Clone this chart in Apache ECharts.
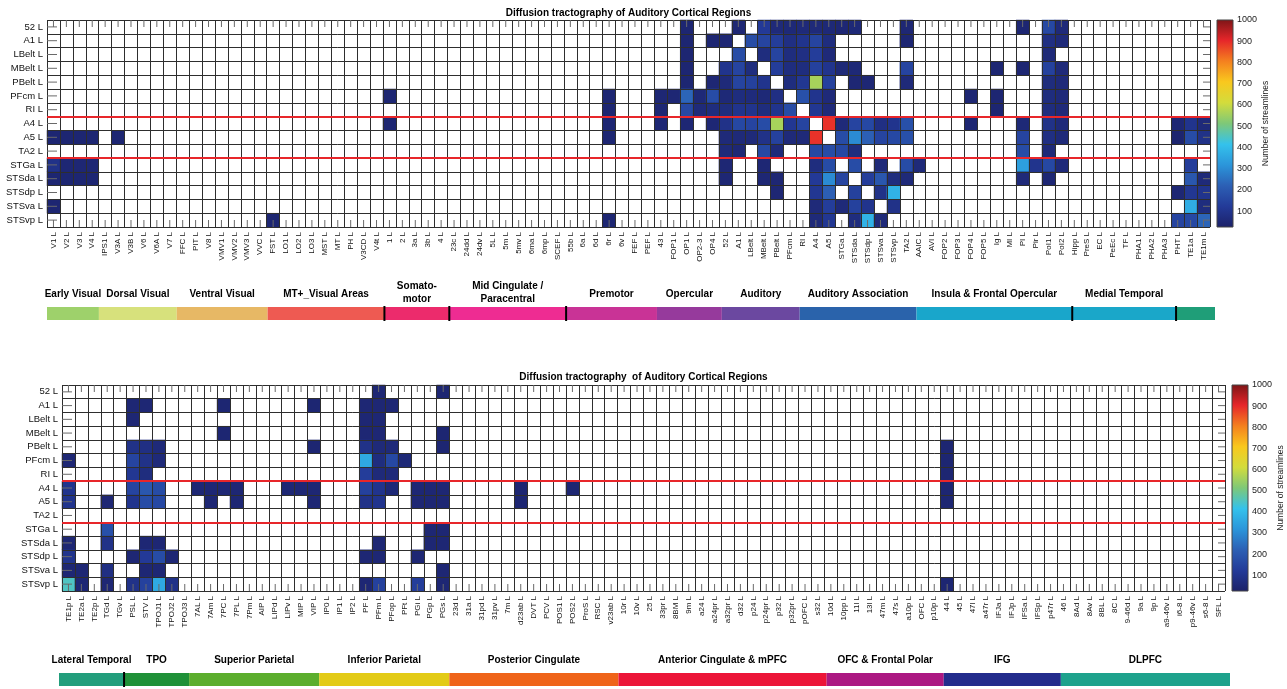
<!DOCTYPE html>
<html>
<head>
<meta charset="utf-8">
<script src="https://cdn.jsdelivr.net/npm/echarts@6/dist/echarts.min.js"></script>
<style>
  html, body { margin: 0; padding: 0; background: #fff; }
  #chart { width: 1287px; height: 689px; }
</style>
</head>
<body>
<div id="chart"></div>
<script>
// Seed regions (rows) shared by both panels
const rows = ['52', 'A1', 'LBelt', 'MBelt', 'PBelt', 'PFcm', 'RI', 'A4', 'A5', 'TA2',
  'STGa', 'STSda', 'STSdp', 'STSva', 'STSvp'];

// Rows that start a new block (red separators)
const dividerRows = ['A4', 'STGa'];

// Target regions of the upper panel
const topCols = ['V1', 'V2', 'V3', 'V4', 'IPS1', 'V3A', 'V3B', 'V6', 'V6A', 'V7', 'FFC', 'PIT', 'V8',
  'VMV1', 'VMV2', 'VMV3', 'VVC', 'FST', 'LO1', 'LO2', 'LO3', 'MST', 'MT', 'PH', 'V3CD', 'V4t',
  '1', '2', '3a', '3b', '4', '23c', '24dd', '24dv', '5L', '5m', '5mv', '6ma', '6mp', 'SCEF',
  '55b', '6a', '6d', '6r', '6v', 'FEF', 'PEF', '43', 'FOP1', 'OP1', 'OP2-3', 'OP4',
  '52', 'A1', 'LBelt', 'MBelt', 'PBelt', 'PFcm', 'RI', 'A4', 'A5', 'STGa', 'STSda', 'STSdp',
  'STSva', 'STSvp', 'TA2', 'AAIC', 'AVI', 'FOP2', 'FOP3', 'FOP4', 'FOP5', 'Ig', 'MI', 'PI',
  'Pir', 'PoI1', 'PoI2', 'Hipp', 'PreS', 'EC', 'PeEc', 'TF', 'PHA1', 'PHA2', 'PHA3',
  'PHT', 'TE1a', 'TE1m'];

// Target regions of the lower panel
const bottomCols = ['TE1p', 'TE2a', 'TE2p', 'TGd', 'TGv', 'PSL', 'STV', 'TPOJ1', 'TPOJ2', 'TPOJ3',
  '7AL', '7Am', '7PC', '7PL', '7Pm', 'AIP', 'LIPd', 'LIPv', 'MIP', 'VIP', 'IP0', 'IP1', 'IP2',
  'PF', 'PFm', 'PFop', 'PFt', 'PGi', 'PGp', 'PGs', '23d', '31a', '31pd', '31pv', '7m', 'd23ab',
  'DVT', 'PCV', 'POS1', 'POS2', 'ProS', 'RSC', 'v23ab', '10r', '10v', '25', '33pr', '8BM', '9m',
  'a24', 'a24pr', 'a32pr', 'd32', 'p24', 'p24pr', 'p32', 'p32pr', 'pOFC', 's32', '10d', '10pp',
  '11l', '13l', '47m', '47s', 'a10p', 'OFC', 'p10p', '44', '45', '47l', 'a47r', 'IFJa', 'IFJp',
  'IFSa', 'IFSp', 'p47r', '46', '8Ad', '8Av', '8BL', '8C', '9-46d', '9a', '9p', 'a9-46v',
  'i6-8', 'p9-46v', 's6-8', 'SFL'];

// Streamline counts, upper panel: [seed, target, count]
const topCells = [
  ['52', 'OP1', 45], ['52', 'A1', 50], ['52', 'MBelt', 120], ['52', 'PBelt', 60], ['52', 'PFcm', 55],
  ['52', 'RI', 60], ['52', 'A4', 60], ['52', 'A5', 55], ['52', 'STGa', 50], ['52', 'STSda', 55],
  ['52', 'TA2', 50], ['52', 'PI', 45], ['52', 'PoI1', 160], ['52', 'PoI2', 60],
  ['A1', 'OP1', 45], ['A1', 'OP4', 45], ['A1', '52', 50], ['A1', 'LBelt', 170], ['A1', 'MBelt', 150],
  ['A1', 'PBelt', 130], ['A1', 'PFcm', 80], ['A1', 'RI', 100], ['A1', 'A4', 150], ['A1', 'A5', 70],
  ['A1', 'TA2', 45], ['A1', 'PoI1', 80], ['A1', 'PoI2', 60],
  ['LBelt', 'OP1', 45], ['LBelt', 'A1', 170], ['LBelt', 'MBelt', 70], ['LBelt', 'PBelt', 150],
  ['LBelt', 'PFcm', 70], ['LBelt', 'RI', 80], ['LBelt', 'A4', 130], ['LBelt', 'A5', 60], ['LBelt', 'PoI1', 60],
  ['MBelt', 'OP1', 45], ['MBelt', '52', 100], ['MBelt', 'A1', 150], ['MBelt', 'LBelt', 70],
  ['MBelt', 'PBelt', 130], ['MBelt', 'PFcm', 70], ['MBelt', 'RI', 70], ['MBelt', 'A4', 140],
  ['MBelt', 'A5', 100], ['MBelt', 'STGa', 55], ['MBelt', 'STSda', 55], ['MBelt', 'TA2', 150],
  ['MBelt', 'Ig', 45], ['MBelt', 'PI', 45], ['MBelt', 'PoI1', 140], ['MBelt', 'PoI2', 60],
  ['PBelt', 'OP1', 45], ['PBelt', 'OP4', 50], ['PBelt', '52', 60], ['PBelt', 'A1', 150],
  ['PBelt', 'LBelt', 140], ['PBelt', 'MBelt', 100], ['PBelt', 'PFcm', 70], ['PBelt', 'RI', 110],
  ['PBelt', 'A4', 560], ['PBelt', 'A5', 140], ['PBelt', 'STSda', 50], ['PBelt', 'STSdp', 50],
  ['PBelt', 'TA2', 60], ['PBelt', 'PoI1', 70], ['PBelt', 'PoI2', 60],
  ['PFcm', '1', 45], ['PFcm', '6r', 45], ['PFcm', '43', 50], ['PFcm', 'FOP1', 50], ['PFcm', 'OP1', 230],
  ['PFcm', 'OP2-3', 55], ['PFcm', 'OP4', 170], ['PFcm', '52', 55], ['PFcm', 'A1', 70],
  ['PFcm', 'LBelt', 65], ['PFcm', 'MBelt', 55], ['PFcm', 'PBelt', 80], ['PFcm', 'RI', 180],
  ['PFcm', 'A4', 100], ['PFcm', 'A5', 60], ['PFcm', 'FOP4', 45], ['PFcm', 'Ig', 45],
  ['PFcm', 'PoI1', 70], ['PFcm', 'PoI2', 60],
  ['RI', '6r', 45], ['RI', '43', 50], ['RI', 'OP1', 160], ['RI', 'OP2-3', 60], ['RI', 'OP4', 70],
  ['RI', '52', 70], ['RI', 'A1', 100], ['RI', 'LBelt', 100], ['RI', 'MBelt', 70], ['RI', 'PBelt', 100],
  ['RI', 'PFcm', 170], ['RI', 'A4', 110], ['RI', 'A5', 60], ['RI', 'Ig', 45], ['RI', 'PoI1', 70],
  ['RI', 'PoI2', 60],
  ['A4', '1', 45], ['A4', '6r', 45], ['A4', '43', 50], ['A4', 'OP1', 50], ['A4', 'OP4', 50],
  ['A4', '52', 90], ['A4', 'A1', 160], ['A4', 'LBelt', 150], ['A4', 'MBelt', 170], ['A4', 'PBelt', 560],
  ['A4', 'PFcm', 110], ['A4', 'RI', 150], ['A4', 'A5', 890], ['A4', 'STGa', 60], ['A4', 'STSda', 150],
  ['A4', 'STSdp', 160], ['A4', 'STSva', 80], ['A4', 'STSvp', 100], ['A4', 'TA2', 180],
  ['A4', 'FOP4', 45], ['A4', 'PI', 55], ['A4', 'PoI1', 90], ['A4', 'PoI2', 60], ['A4', 'PHT', 50],
  ['A4', 'TE1a', 100], ['A4', 'TE1m', 60],
  ['A5', 'V1', 45], ['A5', 'V2', 45], ['A5', 'V3', 45], ['A5', 'V4', 45], ['A5', 'V3A', 45],
  ['A5', '6r', 45], ['A5', '52', 60], ['A5', 'A1', 60], ['A5', 'LBelt', 60], ['A5', 'MBelt', 90],
  ['A5', 'PBelt', 140], ['A5', 'PFcm', 60], ['A5', 'RI', 60], ['A5', 'A4', 890], ['A5', 'STGa', 170],
  ['A5', 'STSda', 300], ['A5', 'STSdp', 220], ['A5', 'STSva', 150], ['A5', 'STSvp', 160],
  ['A5', 'TA2', 180], ['A5', 'PI', 150], ['A5', 'PoI1', 80], ['A5', 'PoI2', 60], ['A5', 'PHT', 40],
  ['A5', 'TE1a', 170], ['A5', 'TE1m', 90],
  ['TA2', '52', 60], ['TA2', 'A1', 50], ['TA2', 'MBelt', 160], ['TA2', 'PBelt', 60], ['TA2', 'A4', 160],
  ['TA2', 'A5', 170], ['TA2', 'STGa', 160], ['TA2', 'STSda', 70], ['TA2', 'PI', 170], ['TA2', 'PoI1', 60],
  ['STGa', 'V1', 90], ['STGa', 'V2', 50], ['STGa', 'V3', 50], ['STGa', 'V4', 50], ['STGa', '52', 50],
  ['STGa', 'MBelt', 50], ['STGa', 'A4', 70], ['STGa', 'A5', 170], ['STGa', 'STSda', 170],
  ['STGa', 'STSva', 60], ['STGa', 'TA2', 170], ['STGa', 'AAIC', 60], ['STGa', 'PI', 340],
  ['STGa', 'Pir', 100], ['STGa', 'PoI1', 160], ['STGa', 'PoI2', 60], ['STGa', 'TE1a', 130],
  ['STSda', 'V1', 45], ['STSda', 'V2', 45], ['STSda', 'V3', 45], ['STSda', 'V4', 45], ['STSda', '52', 50],
  ['STSda', 'MBelt', 50], ['STSda', 'PBelt', 50], ['STSda', 'A4', 120], ['STSda', 'A5', 300],
  ['STSda', 'STGa', 150], ['STSda', 'STSdp', 130], ['STSda', 'STSva', 200], ['STSda', 'STSvp', 70],
  ['STSda', 'TA2', 60], ['STSda', 'PI', 60], ['STSda', 'PoI1', 50], ['STSda', 'TE1a', 200],
  ['STSda', 'TE1m', 60],
  ['STSdp', 'PBelt', 50], ['STSdp', 'A4', 110], ['STSdp', 'A5', 220], ['STSdp', 'STSda', 140],
  ['STSdp', 'STSva', 90], ['STSdp', 'STSvp', 380], ['STSdp', 'PHT', 50], ['STSdp', 'TE1a', 110],
  ['STSdp', 'TE1m', 100],
  ['STSva', 'V1', 45], ['STSva', 'A4', 60], ['STSva', 'A5', 130], ['STSva', 'STGa', 60],
  ['STSva', 'STSda', 140], ['STSva', 'STSdp', 100], ['STSva', 'STSvp', 90], ['STSva', 'TE1a', 370],
  ['STSva', 'TE1m', 70],
  ['STSvp', 'FST', 45], ['STSvp', '6r', 45], ['STSvp', 'A4', 60], ['STSvp', 'A5', 110],
  ['STSvp', 'STSda', 70], ['STSvp', 'STSdp', 380], ['STSvp', 'STSva', 60], ['STSvp', 'PHT', 150],
  ['STSvp', 'TE1a', 160], ['STSvp', 'TE1m', 230]
];

// Streamline counts, lower panel: [seed, target, count]
const bottomCells = [
  ['52', 'PFm', 50], ['52', 'PGs', 45],
  ['A1', 'PSL', 50], ['A1', 'STV', 50], ['A1', '7PC', 45], ['A1', 'VIP', 45], ['A1', 'PF', 50],
  ['A1', 'PFm', 50], ['A1', 'PFop', 50],
  ['LBelt', 'PSL', 50], ['LBelt', 'PF', 50], ['LBelt', 'PFm', 50],
  ['MBelt', '7PC', 45], ['MBelt', 'PF', 50], ['MBelt', 'PFm', 50], ['MBelt', 'PGs', 45],
  ['PBelt', 'PSL', 90], ['PBelt', 'STV', 80], ['PBelt', 'TPOJ1', 60], ['PBelt', 'VIP', 45],
  ['PBelt', 'PF', 90], ['PBelt', 'PFm', 60], ['PBelt', 'PFop', 60], ['PBelt', 'PGs', 45], ['PBelt', '44', 45],
  ['PFcm', 'TE1p', 50], ['PFcm', 'PSL', 150], ['PFcm', 'STV', 90], ['PFcm', 'TPOJ1', 60],
  ['PFcm', 'PF', 360], ['PFcm', 'PFm', 70], ['PFcm', 'PFop', 160], ['PFcm', 'PFt', 55], ['PFcm', '44', 45],
  ['RI', 'PSL', 110], ['RI', 'STV', 70], ['RI', 'PF', 130], ['RI', 'PFm', 60], ['RI', 'PFop', 60], ['RI', '44', 45],
  ['A4', 'TE1p', 100], ['A4', 'PSL', 150], ['A4', 'STV', 200], ['A4', 'TPOJ1', 170], ['A4', '7AL', 50],
  ['A4', '7Am', 50], ['A4', '7PC', 50], ['A4', '7PL', 50], ['A4', 'LIPv', 50], ['A4', 'MIP', 50],
  ['A4', 'VIP', 50], ['A4', 'PF', 140], ['A4', 'PFm', 100], ['A4', 'PFop', 55], ['A4', 'PGi', 50],
  ['A4', 'PGp', 50], ['A4', 'PGs', 50], ['A4', 'd23ab', 45], ['A4', 'POS2', 45], ['A4', '44', 45],
  ['A5', 'TE1p', 100], ['A5', 'TGd', 50], ['A5', 'PSL', 100], ['A5', 'STV', 170], ['A5', 'TPOJ1', 160],
  ['A5', '7Am', 50], ['A5', '7PL', 50], ['A5', 'VIP', 50], ['A5', 'PF', 90], ['A5', 'PFm', 100],
  ['A5', 'PGi', 50], ['A5', 'PGp', 50], ['A5', 'PGs', 50], ['A5', 'd23ab', 45], ['A5', '44', 45],
  ['STGa', 'TGd', 180], ['STGa', 'PGp', 50], ['STGa', 'PGs', 50],
  ['STSda', 'TE1p', 50], ['STSda', 'TGd', 90], ['STSda', 'STV', 50], ['STSda', 'TPOJ1', 50],
  ['STSda', 'PFm', 50], ['STSda', 'PGp', 50], ['STSda', 'PGs', 50],
  ['STSdp', 'TE1p', 100], ['STSdp', 'PSL', 50], ['STSdp', 'STV', 120], ['STSdp', 'TPOJ1', 170],
  ['STSdp', 'TPOJ2', 50], ['STSdp', 'PF', 50], ['STSdp', 'PFm', 50], ['STSdp', 'PGi', 50],
  ['STSva', 'TE1p', 50], ['STSva', 'TE2a', 50], ['STSva', 'TGd', 80], ['STSva', 'STV', 50],
  ['STSva', 'TPOJ1', 50], ['STSva', 'PGs', 50],
  ['STSvp', 'TE1p', 450], ['STSvp', 'TE2a', 50], ['STSvp', 'TGd', 50], ['STSvp', 'PSL', 90],
  ['STSvp', 'STV', 140], ['STSvp', 'TPOJ1', 360], ['STSvp', 'TPOJ2', 90], ['STSvp', 'PF', 50],
  ['STSvp', 'PFm', 140], ['STSvp', 'PGi', 130], ['STSvp', 'PGs', 50], ['STSvp', '44', 45]
];

// Region groups under each panel: [label, number of columns, colour, divider on the left]
const topGroups = [
  ['Early Visual', 4, '#9ed16b', false],
  ['Dorsal Visual', 6, '#d7e17c', false],
  ['Ventral Visual', 7, '#e7b865', false],
  ['MT+_Visual Areas', 9, '#ee5a52', false],
  ['Somato-\nmotor', 5, '#ec2b6c', true],
  ['Mid Cingulate /\nParacentral', 9, '#ee2c92', true],
  ['Premotor', 7, '#c93396', true],
  ['Opercular', 5, '#963a9c', false],
  ['Auditory', 6, '#6b48a0', false],
  ['Auditory Association', 9, '#2a63ab', false],
  ['Insula & Frontal Opercular', 12, '#19a6cb', false],
  ['Medial Temporal', 8, '#1aa7c9', true],
  ['', 3, '#1f9e78', true]
];
const bottomGroups = [
  ['Lateral Temporal', 5, '#229e7c', false],
  ['TPO', 5, '#1f9138', true],
  ['Superior Parietal', 10, '#5cae2e', false],
  ['Inferior Parietal', 10, '#e3cb16', false],
  ['Posterior Cingulate', 13, '#ef6419', false],
  ['Anterior Cingulate & mPFC', 16, '#ec1538', false],
  ['OFC & Frontal Polar', 9, '#ac1882', false],
  ['IFG', 9, '#232c8c', false],
  ['DLPFC', 13, '#1ea28c', false]
];

// Colour scale
const streamlineRange = [25, 1000];
const colorbarTicks = [100, 200, 300, 400, 500, 600, 700, 800, 900, 1000];
const colormap = ['#1c2168', '#233a98', '#2c5fb4', '#2b95da', '#34c2ec', '#7ec878',
  '#d3dc3c', '#f9c81e', '#f4801f', '#e6262a', '#7d1517'];

const FONT = "'Liberation Sans', Arial, Helvetica, sans-serif";

const panels = [
  {
    title: 'Diffusion tractography of Auditory Cortical Regions', titleY: 13,
    cols: topCols, cells: topCells, groups: topGroups,
    grid: { left: 47, top: 20, width: 1163, height: 207 },
    band: { left: 47, top: 307, width: 1168, height: 13 },
    bar: { left: 1217, top: 20, width: 16, height: 207 }
  },
  {
    title: 'Diffusion tractography  of Auditory Cortical Regions', titleY: 377,
    cols: bottomCols, cells: bottomCells, groups: bottomGroups,
    grid: { left: 62, top: 385, width: 1163, height: 206 },
    band: { left: 59, top: 673, width: 1171, height: 13 },
    bar: { left: 1232, top: 385, width: 16, height: 206 }
  }
];

const withL = (name) => name + ' L';

const option = {
  animation: false,
  backgroundColor: '#ffffff',
  textStyle: { fontFamily: FONT },
  grid: [], xAxis: [], yAxis: [], series: [], graphic: [],
  visualMap: []
};

const gridLineStyle = { color: '#2e2e2e', width: 1 };
const heatmapSeries = [];

panels.forEach((p, k) => {
  const g0 = k * 3;
  const a0 = k * 4;
  option.grid.push(
    Object.assign({ containLabel: false }, p.grid),
    Object.assign({ containLabel: false }, p.band),
    Object.assign({ containLabel: false }, p.bar)
  );
  const colLabels = p.cols.map(withL);
  const rowLabels = rows.map(withL);

  // x axes: column labels, cell lines, band, colour bar
  option.xAxis.push(
    {
      type: 'category', gridIndex: g0, data: colLabels, position: 'bottom', z: 5,
      axisLine: { show: false }, axisTick: { show: false },
      axisLabel: { interval: 0, rotate: 90, fontSize: 8, margin: 5, color: '#111', fontFamily: FONT },
      splitLine: { show: false }
    },
    {
      type: 'value', gridIndex: g0, min: 0, max: p.cols.length, interval: 1, position: 'top', z: 4,
      axisLine: { show: false }, axisTick: { show: false }, axisLabel: { show: false },
      splitLine: { show: true, lineStyle: gridLineStyle }
    },
    { type: 'category', gridIndex: g0 + 1, data: colLabels, show: false },
    { type: 'value', gridIndex: g0 + 2, min: 0, max: 1, show: false }
  );

  // y axes: row labels, cell lines, band, colour bar
  option.yAxis.push(
    {
      type: 'category', gridIndex: g0, data: rowLabels, inverse: true, position: 'left', z: 5,
      axisLine: { show: false }, axisTick: { show: false },
      axisLabel: { interval: 0, fontSize: 9.5, margin: 4, color: '#111', fontFamily: FONT },
      splitLine: { show: false }
    },
    {
      type: 'value', gridIndex: g0, min: 0, max: rows.length, interval: 1, inverse: true, z: 4,
      axisLine: { show: false }, axisTick: { show: false }, axisLabel: { show: false },
      splitLine: { show: true, lineStyle: gridLineStyle }
    },
    { type: 'value', gridIndex: g0 + 1, min: 0, max: 1, show: false },
    {
      type: 'value', gridIndex: g0 + 2, min: streamlineRange[0], max: streamlineRange[1], position: 'right',
      axisLine: { show: false }, axisTick: { show: false }, splitLine: { show: false },
      axisLabel: {
        customValues: colorbarTicks, formatter: (v) => String(v),
        fontSize: 9, margin: 4, color: '#222', fontFamily: FONT
      },
      name: 'Number of streamlines', nameLocation: 'middle', nameRotate: 90, nameGap: 25,
      nameTextStyle: { fontSize: 8.5, color: '#222', fontFamily: FONT }
    }
  );

  // heatmap cells
  const cellData = p.cells.map(([src, dst, v]) => [p.cols.indexOf(dst), rows.indexOf(src), v]);
  heatmapSeries.push(option.series.length);
  option.series.push({
    type: 'heatmap', xAxisIndex: a0, yAxisIndex: a0, data: cellData, z: 2,
    silent: true, emphasis: { disabled: true }, itemStyle: { borderWidth: 0 }
  });

  // inward tick marks on all four sides of the matrix
  const tickData = p.cols.map((c, i) => [i, 0, 0]).concat(rows.map((r, j) => [0, j, 1]));
  option.series.push({
    type: 'custom', xAxisIndex: a0, yAxisIndex: a0, data: tickData, silent: true, z: 7,
    renderItem: (params, api) => {
      const cs = params.coordSys;
      const pt = api.coord([api.value(0), api.value(1)]);
      const st = { stroke: '#6a6a6a', lineWidth: 1 };
      if (api.value(2) === 0) {
        return {
          type: 'group', children: [
            { type: 'line', shape: { x1: pt[0], y1: cs.y, x2: pt[0], y2: cs.y + 7 }, style: st },
            { type: 'line', shape: { x1: pt[0], y1: cs.y + cs.height, x2: pt[0], y2: cs.y + cs.height - 7 }, style: st }
          ]
        };
      }
      return {
        type: 'group', children: [
          { type: 'line', shape: { x1: cs.x, y1: pt[1], x2: cs.x + 10, y2: pt[1] }, style: st },
          { type: 'line', shape: { x1: cs.x + cs.width, y1: pt[1], x2: cs.x + cs.width - 7, y2: pt[1] }, style: st }
        ]
      };
    }
  });

  // red separators between row blocks
  option.series.push({
    type: 'line', xAxisIndex: a0 + 1, yAxisIndex: a0 + 1, data: [[0, 0]], z: 8,
    showSymbol: false, silent: true, lineStyle: { opacity: 0 },
    markLine: {
      silent: true, symbol: ['none', 'none'], label: { show: false }, animation: false,
      lineStyle: { color: '#e8262a', width: 2, type: 'solid' },
      data: dividerRows.map((r) => ({ yAxis: rows.indexOf(r) }))
    }
  });

  // region group band with labels
  let start = 0;
  const groupData = p.groups.map((gr, i) => {
    const d = [start, start + gr[1] - 1, i];
    start += gr[1];
    return d;
  });
  const groups = p.groups;
  option.series.push({
    type: 'custom', xAxisIndex: a0 + 2, yAxisIndex: a0 + 2, data: groupData, silent: true, z: 3,
    renderItem: (params, api) => {
      const gr = groups[api.value(2)];
      const a = api.coord([api.value(0), 0]);
      const b = api.coord([api.value(1), 1]);
      const w = api.size([1, 0])[0];
      const x0 = a[0] - w / 2, x1 = b[0] + w / 2, yB = a[1], yT = b[1];
      const children = [{
        type: 'rect', shape: { x: x0, y: yT, width: x1 - x0, height: yB - yT },
        style: { fill: gr[2] }
      }];
      if (gr[3]) {
        children.push({
          type: 'line', shape: { x1: x0, y1: yT - 1, x2: x0, y2: yB + 1 },
          style: { stroke: '#000', lineWidth: 2 }, z2: 10
        });
      }
      if (gr[0]) {
        const twoLines = gr[0].indexOf('\n') >= 0;
        children.push({
          type: 'text', x: (x0 + x1) / 2, y: yT - (twoLines ? 1 : 6),
          style: {
            text: gr[0], fill: '#000', fontSize: 10, fontWeight: 'bold', fontFamily: FONT,
            align: 'center', verticalAlign: 'bottom', lineHeight: 13
          }
        });
      }
      return { type: 'group', children };
    }
  });

  // colour bar
  const stops = colormap.map((c, i) => ({ offset: i / (colormap.length - 1), color: c }));
  option.series.push({
    type: 'custom', xAxisIndex: a0 + 3, yAxisIndex: a0 + 3, silent: true, z: 3,
    data: [[0, streamlineRange[0], 1, streamlineRange[1]]],
    renderItem: (params, api) => {
      const lo = api.coord([api.value(0), api.value(1)]);
      const hi = api.coord([api.value(2), api.value(3)]);
      return {
        type: 'rect',
        shape: { x: lo[0], y: hi[1], width: hi[0] - lo[0], height: lo[1] - hi[1] },
        style: {
          fill: new echarts.graphic.LinearGradient(0, 1, 0, 0, stops),
          stroke: '#444', lineWidth: 1
        }
      };
    }
  });

  // panel title
  option.graphic.push({
    type: 'text', x: p.grid.left + p.grid.width / 2, y: p.titleY, silent: true,
    style: {
      text: p.title, fill: '#000', fontSize: 10, fontWeight: 'bold', fontFamily: FONT,
      align: 'center', verticalAlign: 'middle'
    }
  });
});

option.visualMap.push({
  show: false, type: 'continuous',
  min: streamlineRange[0], max: streamlineRange[1],
  seriesIndex: heatmapSeries, dimension: 2,
  inRange: { color: colormap }
});

const chart = echarts.init(document.getElementById('chart'), null, { renderer: 'canvas' });
chart.setOption(option);
</script>
</body>
</html>
